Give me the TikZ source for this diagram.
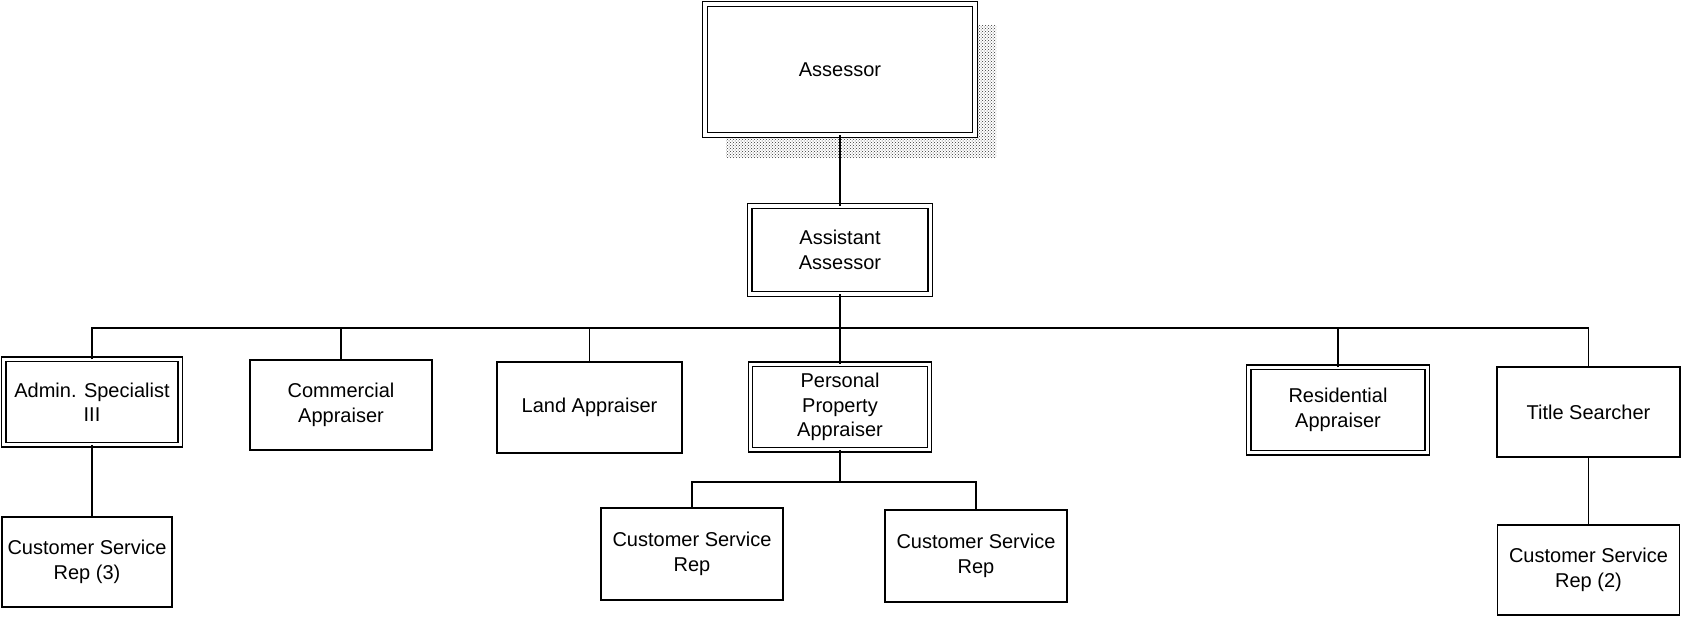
\documentclass[tikz,border=0pt]{standalone}
\usepackage{fontspec}
\setmainfont{Liberation Sans}
\usetikzlibrary{patterns,shadows}
\begin{document}
\begin{tikzpicture}[x=1pt,y=-1pt,
  box/.style={draw=black, line width=1.5pt, fill=white, align=center,
    inner sep=0pt, outer sep=0pt, font=\fontsize{20}{24.5}\selectfont},
  dbox/.style={box, line width=1.3pt, double=white, double distance=3.2pt},
  sz/.style 2 args={minimum width=#1pt, minimum height=#2pt},
  link/.style={draw=black, line width=1.5pt}]
\useasboundingbox (0,0) rectangle (1682,618);

% top of the chart
\node[dbox, sz={270}{131},
  drop shadow={shadow xshift=21pt, shadow yshift=-22pt,
    pattern=crosshatch dots, pattern color=black!80, opacity=1}]
  (ass) at (840,69.5) {Assessor};
\node[dbox, sz={180.5}{88}] (asst) at (840,250) {Assistant\\Assessor};

% second level
\node[dbox, sz={176.5}{85.5}] (adm)   at (92,402)    {Admin. Specialist\\III};
\node[box,  sz={182}{90}]     (com)   at (341,405)   {Commercial\\Appraiser};
\node[box,  sz={185}{91}]     (land)  at (589.5,407.5) {Land Appraiser};
\node[dbox, sz={179}{85.5}]   (ppa)   at (840,407)   {Personal\\Property\\Appraiser};
\node[dbox, sz={178.5}{85.5}] (res)   at (1338,410)  {Residential\\Appraiser};
\node[box,  sz={183}{90}]     (title) at (1588.5,412) {Title Searcher};

% third level
\node[box, sz={170}{90}] (csr3) at (87,562)   {Customer Service\\Rep (3)};
\node[box, sz={182}{92}] (csrL) at (692,554)  {Customer Service\\Rep};
\node[box, sz={182}{92}] (csrR) at (976,556)  {Customer Service\\Rep};
\node[box, sz={182}{90}] (csr2) at (1588.5,570) {Customer Service\\Rep (2)};

% connectors
\coordinate (bus) at (0,328);
\coordinate (sub) at (0,482);
\draw[link] (ass.south) -- (asst.north);
\draw[link] (asst.south) -- (ppa.north);
\draw[link] (adm.north) -- (adm.north |- bus) -- (title.north |- bus) -- (title.north);
\foreach \n in {com,land,res}
  \draw[link] (\n.north) -- (\n.north |- bus);
\draw[link] (adm.south) -- (adm.south |- csr3.north);
\draw[link] (ppa.south) -- (ppa.south |- sub);
\draw[link] (csrL.north) -- (csrL.north |- sub) -- (csrR.north |- sub) -- (csrR.north);
\draw[link] (title.south) -- (csr2.north);
\end{tikzpicture}
\end{document}
